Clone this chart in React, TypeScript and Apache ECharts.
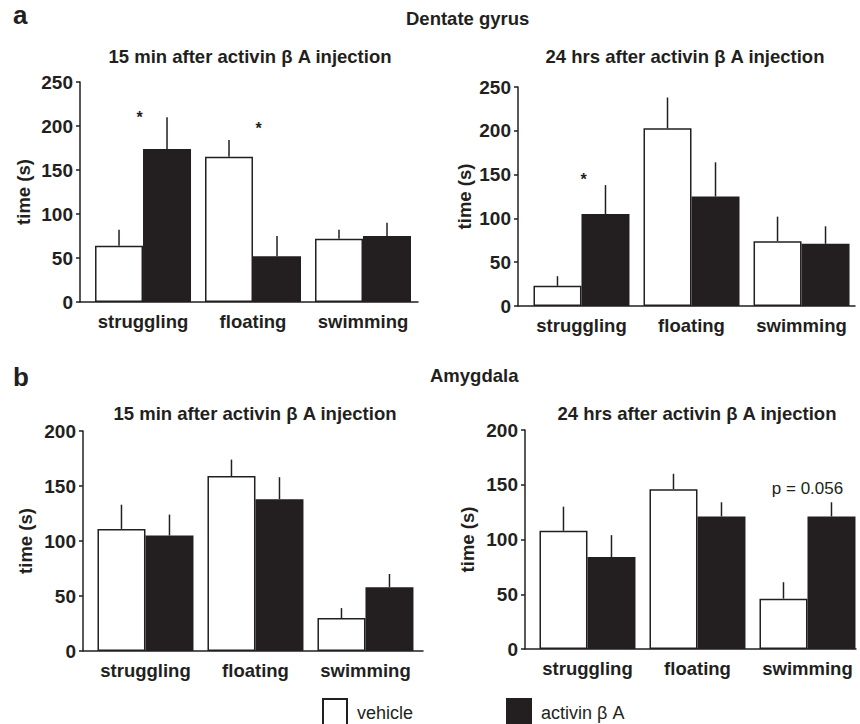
import React, { useEffect, useRef } from 'react';
import * as echarts from 'echarts';

const categories = ['struggling', 'floating', 'swimming'];
const vehicleName = 'vehicle';
const activinName = 'activin β A';

// Dentate gyrus, 15 min
const dg15Vehicle = [64, 165, 72];
const dg15VehicleSem = [18, 19, 10];
const dg15Activin = [174, 52, 75];
const dg15ActivinSem = [36, 23, 15];
// Dentate gyrus, 24 hrs
const dg24Vehicle = [23, 203, 74];
const dg24VehicleSem = [11, 35, 28];
const dg24Activin = [105, 125, 71];
const dg24ActivinSem = [33, 39, 20];
// Amygdala, 15 min
const am15Vehicle = [111, 159, 30];
const am15VehicleSem = [22, 15, 9];
const am15Activin = [105, 138, 58];
const am15ActivinSem = [19, 20, 12];
// Amygdala, 24 hrs
const am24Vehicle = [108, 146, 46];
const am24VehicleSem = [22, 14, 15];
const am24Activin = [84, 121, 121];
const am24ActivinSem = [20, 13, 13];

const yTicksA = [0, 50, 100, 150, 200, 250];
const yTicksB = [0, 50, 100, 150, 200];

// annotations: [x (category position), y value, text]
const dg15Notes: [number, number, string][] = [[-0.03, 210, '*'], [1.05, 197, '*']];
const dg24Notes: [number, number, string][] = [[0.02, 144, '*']];
const am15Notes: [number, number, string][] = [];
const am24Notes: [number, number, string][] = [[2, 147, 'p = 0.056']];

const FONT = '"Liberation Sans", Arial, Helvetica, sans-serif';
const INK = '#231f20';
const BAR_W = 48;

const panels = [
  { grid: { left: 80, top: 82, width: 338, height: 220 }, xMin: -0.573, xMax: 2.5, yTicks: yTicksA, nameGap: 47,
    veh: dg15Vehicle, vehSem: dg15VehicleSem, act: dg15Activin, actSem: dg15ActivinSem, notes: dg15Notes },
  { grid: { left: 518, top: 87, width: 337, height: 219 }, xMin: -0.577, xMax: 2.486, yTicks: yTicksA, nameGap: 44,
    veh: dg24Vehicle, vehSem: dg24VehicleSem, act: dg24Activin, actSem: dg24ActivinSem, notes: dg24Notes },
  { grid: { left: 83, top: 431, width: 340, height: 220 }, xMin: -0.568, xMax: 2.523, yTicks: yTicksB, nameGap: 48,
    veh: am15Vehicle, vehSem: am15VehicleSem, act: am15Activin, actSem: am15ActivinSem, notes: am15Notes },
  { grid: { left: 525, top: 430, width: 331, height: 219 }, xMin: -0.568, xMax: 2.441, yTicks: yTicksB, nameGap: 48,
    veh: am24Vehicle, vehSem: am24VehicleSem, act: am24Activin, actSem: am24ActivinSem, notes: am24Notes },
];

const titles = [
  { text: 'a', x: 13, y: 15, size: 26, align: 'left' },
  { text: 'Dentate gyrus', x: 406, y: 18, size: 18.5, align: 'left' },
  { text: '15 min after activin β A injection', x: 250, y: 56, size: 18.5, align: 'center' },
  { text: '24 hrs after activin β A injection', x: 685, y: 56, size: 18.5, align: 'center' },
  { text: 'b', x: 13, y: 377, size: 26, align: 'left' },
  { text: 'Amygdala', x: 430, y: 375, size: 18.5, align: 'left' },
  { text: '15 min after activin β A injection', x: 255, y: 413, size: 18.5, align: 'center' },
  { text: '24 hrs after activin β A injection', x: 697, y: 413, size: 18.5, align: 'center' },
];

function errorRender(offset: number) {
  return (params: any, api: any) => {
    const x = api.value(0);
    const m = api.value(1);
    const e = api.value(2);
    const p0 = api.coord([x, m]);
    const p1 = api.coord([x, m + e]);
    return {
      type: 'line',
      shape: { x1: p0[0] + offset, y1: p0[1], x2: p1[0] + offset, y2: p1[1] },
      style: { stroke: INK, lineWidth: 1.5 },
    };
  };
}

export default function App() {
  const ref = useRef<HTMLDivElement>(null);
  useEffect(() => {
    if (!ref.current) return;
    const chart = echarts.init(ref.current, undefined, { renderer: 'svg' });
    const grid: any[] = [];
    const xAxis: any[] = [];
    const yAxis: any[] = [];
    const series: any[] = [];
    panels.forEach((p, i) => {
      grid.push({ ...p.grid, containLabel: false });
      xAxis.push({
        type: 'value', gridIndex: i, min: p.xMin, max: p.xMax,
        axisLine: { show: true, onZero: false, lineStyle: { color: INK, width: 1.5 } },
        axisTick: { show: false },
        splitLine: { show: false },
        axisLabel: {
          customValues: [0, 1, 2],
          formatter: (v: number) => categories[Math.round(v)],
          fontFamily: FONT, fontSize: 18.5, fontWeight: 'bold', color: INK, margin: 10,
        },
      });
      const maxY = p.yTicks[p.yTicks.length - 1];
      yAxis.push({
        type: 'value', gridIndex: i, min: 0, max: maxY, interval: 50,
        axisLine: { show: true, onZero: false, lineStyle: { color: INK, width: 1.5 } },
        axisTick: { show: true, length: 4, lineStyle: { color: INK, width: 1.5 } },
        splitLine: { show: false },
        axisLabel: { fontFamily: FONT, fontSize: 19, fontWeight: 'bold', color: INK, margin: 7 },
        name: 'time (s)', nameLocation: 'middle', nameGap: p.nameGap,
        nameTextStyle: { fontFamily: FONT, fontSize: 18.5, fontWeight: 'bold', color: INK },
      });
      const vehData = p.veh.map((v, k) => [k, v]);
      const actData = p.act.map((v, k) => [k, v]);
      series.push({
        type: 'bar', name: vehicleName, xAxisIndex: i, yAxisIndex: i, data: vehData,
        barWidth: BAR_W, barGap: '0%',
        itemStyle: { color: '#ffffff', borderColor: INK, borderWidth: 1.5 },
      });
      series.push({
        type: 'bar', name: activinName, xAxisIndex: i, yAxisIndex: i, data: actData,
        barWidth: BAR_W, barGap: '0%',
        itemStyle: { color: INK, borderColor: INK, borderWidth: 1.5 },
      });
      series.push({
        type: 'custom', name: 'vehErr' + i, xAxisIndex: i, yAxisIndex: i,
        data: p.veh.map((v, k) => [k, v, p.vehSem[k]]),
        encode: { x: 0, y: 1 }, renderItem: errorRender(-BAR_W / 2), z: 3,
      });
      series.push({
        type: 'custom', name: 'actErr' + i, xAxisIndex: i, yAxisIndex: i,
        data: p.act.map((v, k) => [k, v, p.actSem[k]]),
        encode: { x: 0, y: 1 }, renderItem: errorRender(BAR_W / 2), z: 3,
      });
      if (p.notes.length) {
        const isStar = p.notes[0][2] === '*';
        series.push({
          type: 'scatter', name: 'notes' + i, xAxisIndex: i, yAxisIndex: i,
          symbolSize: 0, z: 4,
          itemStyle: { opacity: 1 },
          data: p.notes.map((n) => ({ value: [n[0], n[1]], label: { formatter: n[2] } })),
          label: {
            show: true, position: 'inside', color: INK, opacity: 1, fontFamily: FONT,
            fontSize: isStar ? 16 : 17,
            fontWeight: isStar ? 'bold' : 'normal',
          },
        });
      }
    });
    const graphic = titles.map((t) => ({
      type: 'text', x: t.x, y: t.y,
      style: {
        text: t.text, align: t.align, verticalAlign: 'middle', fill: INK,
        font: `bold ${t.size}px ${FONT}`,
      },
    }));
    const legendBase = {
      orient: 'horizontal', top: 698, padding: 0, icon: 'rect', itemWidth: 24, itemHeight: 28,
      textStyle: { fontFamily: FONT, fontSize: 18, color: INK, padding: [0, 0, 0, 5] },
      selectedMode: false,
    };
    chart.setOption({
      animation: false,
      backgroundColor: '#ffffff',
      grid, xAxis, yAxis, series, graphic,
      legend: [
        { ...legendBase, left: 322, data: [vehicleName] },
        { ...legendBase, left: 506, data: [activinName] },
      ],
    });
    return () => chart.dispose();
  }, []);
  return <div ref={ref} style={{ position: 'absolute', left: 0, top: 0, width: 860, height: 724 }} />;
}
